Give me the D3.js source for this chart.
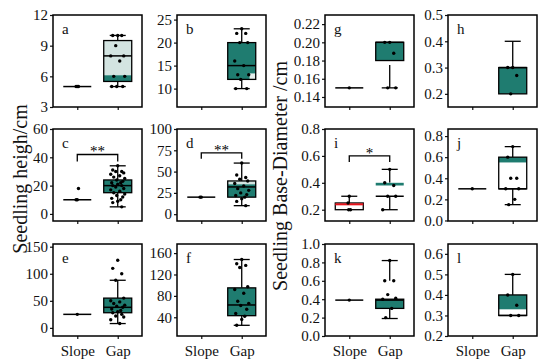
<!DOCTYPE html>
<html>
<head>
<meta charset="utf-8">
<script src="https://cdn.jsdelivr.net/npm/d3@7/dist/d3.min.js"></script>
<style>
  body { margin: 0; background: #fff; }
  svg { display: block; }
  svg text { font-family: "Liberation Serif", "Times New Roman", serif; }
</style>
</head>
<body>
<svg id="chart" width="550" height="362"></svg>
<script>
// groups on the x axis
const groups = ["Slope", "Gap"];
const letters = ["a", "b", "c", "d", "e", "f", "g", "h", "i", "j", "k", "l"];

// y axes
const yDomains = [[3, 12], [6, 26], [-5, 60], [-8, 100], [-15, 155], [5, 177],
  [0.129, 0.23], [0.15, 0.5], [0.116, 0.8], [-0.005, 0.867], [0, 1], [0.2, 0.648]];
const yTicks = [[3, 6, 9, 12], [10, 15, 20, 25], [0, 20, 40, 60], [0, 25, 50, 75, 100],
  [0, 50, 100, 150], [40, 80, 120, 160], [0.14, 0.16, 0.18, 0.2, 0.22], [0.2, 0.3, 0.4, 0.5],
  [0.2, 0.4, 0.6, 0.8], [0, 0.2, 0.4, 0.6, 0.8], [0, 0.2, 0.4, 0.6, 0.8, 1.0], [0.2, 0.3, 0.4, 0.5, 0.6]];
const tickFormats = ["d", "d", "d", "d", "d", "d", ".2f", ".1f", ".1f", ".1f", ".1f", ".1f"];

// box stats [min, q1, median, q3, max]
const slopeStats = [[5, 5, 5, 5, 5], null, [10, 10, 10, 10, 10], [20, 20, 20, 20, 20],
  [25, 25, 25, 25, 25], null, [0.15, 0.15, 0.15, 0.15, 0.15], null,
  [0.2, 0.2, 0.24, 0.25, 0.3], [0.3, 0.3, 0.3, 0.3, 0.3], [0.39, 0.39, 0.39, 0.39, 0.39], null];
const gapStats = [[5, 5.5, 8, 9.5, 10], [10, 12, 15, 20, 23], [5, 15, 20, 24, 34], [10, 20, 32, 39, 60],
  [8, 28, 38, 55, 88], [25, 43, 63, 95, 148], [0.15, 0.18, 0.2, 0.2, 0.2], [0.2, 0.2, 0.3, 0.3, 0.4],
  [0.2, 0.3, 0.3, 0.4, 0.5], [0.15, 0.3, 0.3, 0.6, 0.7], [0.19, 0.3, 0.39, 0.4, 0.82], [0.3, 0.3, 0.3, 0.4, 0.5]];
// where a whisker starts when it does not touch the box [lower, upper]
const gapWhiskerStarts = [null, null, null, null, null, null, [0.175, null], null, null, null, [null, 0.6], null];

// raw points
const slopePoints = [[5, 5, 5], [], [10, 10, 18], [20, 20], [25], [], [0.15], [],
  [0.3, 0.25, 0.2, 0.2], [0.3], [0.39], []];
const gapPoints = [
  [10, 10, 10, 9, 8, 8, 7.5, 6, 6, 5, 5, 5],
  [23, 22, 22, 20, 20, 16, 15, 13, 13, 12, 10, 10],
  [34, 31, 30, 30, 29, 28, 27, 26, 25, 24, 23, 22, 22, 21, 20, 20, 19, 18, 17, 16, 15, 14, 13, 12, 11, 10, 9, 8, 5],
  [60, 46, 43, 41, 39, 36, 33, 30, 28, 25, 23, 22, 20, 18, 15, 10],
  [125, 110, 100, 88, 55, 50, 48, 45, 42, 40, 38, 35, 32, 30, 28, 25, 22, 20, 15, 8],
  [148, 140, 137, 133, 97, 92, 85, 70, 66, 62, 55, 47, 42, 36, 25],
  [0.2, 0.2, 0.188, 0.15, 0.15],
  [0.3, 0.3, 0.27, 0.2],
  [0.5, 0.4, 0.38, 0.3, 0.3, 0.2],
  [0.7, 0.6, 0.4, 0.4, 0.3, 0.3, 0.2, 0.15],
  [0.82, 0.6, 0.6, 0.45, 0.41, 0.4, 0.3, 0.2],
  [0.5, 0.4, 0.35, 0.3, 0.3]
];

// box fills and the odd coloured bands inside some boxes
const teal = "#1f7c70";
const light = "#d3e4e1";
const gapFills = [light, teal, teal, teal, teal, teal, teal, teal, "#fff", "#fff", teal, "#fff"];
const gapBands = [[5.5, 6.1, teal], [12, 13.3, "#e4eeec"], null, [35, 39, light], null, null, null, null,
  [0.38, 0.4, teal], [0.55, 0.6, teal], null, [0.33, 0.4, teal]];
const gapBandFrom = [0, 0.78, 0, 0, 0, 0, 0, 0, 0, 0, 0, 0];
const gapOutline = [true, true, true, true, true, true, true, true, false, true, true, true];
const slopeMedianColors = ["#000", "#000", "#000", "#000", "#000", "#000", "#000", "#000", "#e8141c", "#000", "#000", "#000"];

// significance brackets
const bracketPanels = ["c", "d", "i"];
const bracketTops = [42, 72, 0.6];
const bracketLegs = [37, 65, 0.555];
const bracketSigns = ["**", "**", "*"];

const svg = d3.select("#chart");
const colLefts = [53, 177, 325, 448];
const rowTops = [15, 129, 244];
const pw = 89, ph = 92;
const boxW = 28, capW = 16;
const jitter = [0, -5, 4, -2, 6, -7, 2, -4, 7, -1, 5, -6, 3];
const serif = '"Liberation Serif", "Times New Roman", serif';

letters.forEach((letter, p) => {
  const side = p < 6 ? 0 : 2;
  const k = p < 6 ? p : p - 6;
  const col = side + (k % 2);
  const row = Math.floor(k / 2);
  const g = svg.append("g").attr("transform", `translate(${colLefts[col]},${rowTops[row]})`);

  const x = d3.scalePoint().domain(groups).range([0, pw]).padding(0.6);
  const y = d3.scaleLinear().domain(yDomains[p]).range([ph, 0]);

  // axes
  const yAxis = d3.axisLeft(y).tickValues(yTicks[p]).tickFormat(d3.format(tickFormats[p]))
    .tickSizeOuter(0).tickSize(3).tickPadding(2);
  const ya = g.append("g").call(yAxis).attr("font-family", null);
  ya.select(".domain").remove();
  ya.selectAll("text").style("font-family", serif).attr("font-size", 15).attr("fill", "#111");
  ya.selectAll("line").attr("stroke", "#111").attr("stroke-width", 1.2);

  const xAxis = d3.axisBottom(x).tickSizeOuter(0).tickSize(3).tickPadding(3);
  const xa = g.append("g").attr("transform", `translate(0,${ph})`).call(xAxis).attr("font-family", null);
  xa.select(".domain").remove();
  xa.selectAll("line").attr("stroke", "#111").attr("stroke-width", 1.2);
  if (row === 2) {
    xa.selectAll("text").style("font-family", serif).attr("font-size", 15).attr("fill", "#111").attr("dy", "0.95em");
  } else {
    xa.selectAll("text").remove();
  }

  const drawBox = (grp, s, opts) => {
    if (!s) return;
    const cx = x(grp);
    const [mn, q1, md, q3, mx] = s;
    const ws = opts.whisk || [null, null];
    const line = (x1, y1, x2, y2, col, w) => g.append("line")
      .attr("x1", x1).attr("y1", y1).attr("x2", x2).attr("y2", y2)
      .attr("stroke", col || "#000").attr("stroke-width", w || 1.3);
    if (mx > q3) {
      line(cx, y(ws[1] != null ? ws[1] : q3), cx, y(mx));
      line(cx - capW / 2, y(mx), cx + capW / 2, y(mx));
    }
    if (mn < q1) {
      line(cx, y(ws[0] != null ? ws[0] : q1), cx, y(mn));
      line(cx - capW / 2, y(mn), cx + capW / 2, y(mn));
    }
    if (q3 > q1) {
      g.append("rect").attr("x", cx - boxW / 2).attr("y", y(q3))
        .attr("width", boxW).attr("height", y(q1) - y(q3)).attr("fill", opts.fill);
      if (opts.band) {
        const bx = cx - boxW / 2 + boxW * (opts.bandFrom || 0);
        g.append("rect").attr("x", bx).attr("y", y(opts.band[1]))
          .attr("width", cx + boxW / 2 - bx).attr("height", y(opts.band[0]) - y(opts.band[1]))
          .attr("fill", opts.band[2]);
      }
      if (opts.outline) {
        g.append("rect").attr("x", cx - boxW / 2).attr("y", y(q3))
          .attr("width", boxW).attr("height", y(q1) - y(q3))
          .attr("fill", "none").attr("stroke", "#000").attr("stroke-width", 1.3);
      }
    }
    line(cx - boxW / 2, y(md), cx + boxW / 2, y(md), opts.median || "#000", opts.median && opts.median !== "#000" ? 2 : 1.5);
  };

  drawBox("Slope", slopeStats[p], { fill: "#fff", outline: true, median: slopeMedianColors[p] });
  drawBox("Gap", gapStats[p], {
    fill: gapFills[p], band: gapBands[p], bandFrom: gapBandFrom[p],
    outline: gapOutline[p], whisk: gapWhiskerStarts[p]
  });

  // points
  const pts = [];
  slopePoints[p].forEach((v, i) => pts.push({ g: "Slope", v: v, j: jitter[(i * 3) % jitter.length] * 0.6 }));
  gapPoints[p].forEach((v, i) => pts.push({ g: "Gap", v: v, j: jitter[i % jitter.length] }));
  g.selectAll("circle.pt").data(pts).join("circle")
    .attr("class", "pt")
    .attr("cx", d => x(d.g) + d.j)
    .attr("cy", d => y(d.v))
    .attr("r", 1.7)
    .attr("fill", "#000");

  // bracket
  const bi = bracketPanels.indexOf(letter);
  if (bi >= 0) {
    const top = y(bracketTops[bi]), leg = y(bracketLegs[bi]);
    g.append("path")
      .attr("d", `M${x("Slope")},${leg}V${top}H${x("Gap")}V${leg}`)
      .attr("fill", "none").attr("stroke", "#000").attr("stroke-width", 1.3);
    g.append("text")
      .attr("x", (x("Slope") + x("Gap")) / 2).attr("y", top + 2)
      .attr("text-anchor", "middle").attr("font-size", 15)
      .style("font-family", serif)
      .text(bracketSigns[bi]);
  }

  // frame
  g.append("rect").attr("width", pw).attr("height", ph)
    .attr("fill", "none").attr("stroke", "#000").attr("stroke-width", 1.5);

  g.append("text").attr("x", 9).attr("y", 19).attr("font-size", 15).attr("fill", "#111")
    .style("font-family", serif).text(letter);
});

// y titles
svg.append("text")
  .attr("transform", "translate(27,179) rotate(-90)")
  .attr("text-anchor", "middle").attr("font-size", 20).attr("fill", "#111")
  .style("font-family", serif)
  .text("Seedling heigh/cm");
svg.append("text")
  .attr("transform", "translate(287,176) rotate(-90)")
  .attr("text-anchor", "middle").attr("font-size", 20).attr("fill", "#111")
  .style("font-family", serif)
  .text("Seedling Base-Diameter /cm");
</script>
</body>
</html>
